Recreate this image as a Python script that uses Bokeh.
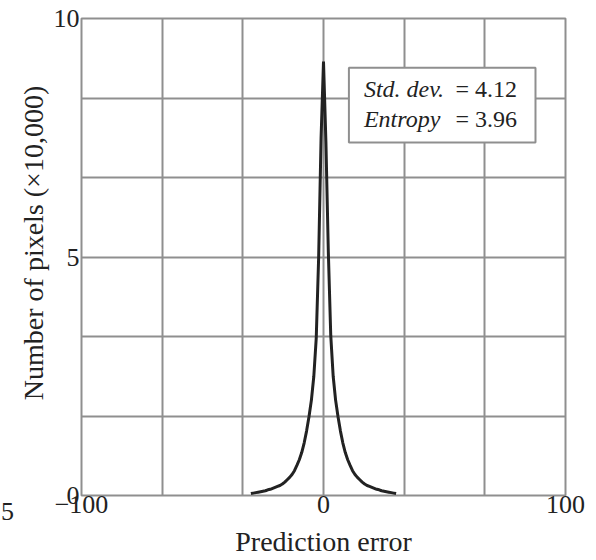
from bokeh.plotting import figure
from bokeh.models import FixedTicker, Range1d, ColumnDataSource, Div
from bokeh.layouts import row
from bokeh.core.properties import value
from bokeh.embed import file_html
from bokeh.resources import INLINE

# Prediction error histogram (counts in units of 10,000 pixels)
errors = list(range(-30, 31))
counts = [0.04, 0.05, 0.06, 0.07, 0.08, 0.09, 0.10, 0.12, 0.13, 0.15,
          0.17, 0.19, 0.21, 0.24, 0.28, 0.33, 0.38, 0.44, 0.52, 0.63,
          0.75, 0.90, 1.10, 1.35, 1.65, 2.00, 2.50, 3.30, 5.00, 7.50,
          9.10,
          7.40, 5.10, 3.35, 2.50, 2.00, 1.65, 1.35, 1.10, 0.90, 0.75,
          0.63, 0.52, 0.44, 0.38, 0.33, 0.28, 0.24, 0.21, 0.19, 0.17,
          0.15, 0.13, 0.12, 0.10, 0.09, 0.08, 0.07, 0.06, 0.05, 0.04]

x_ticks = [-100, 0, 100]
x_tick_labels = {-100: "\u2212100", 0: "0", 100: "100"}
x_grid = [-100, -100 + 200 / 6, -100 + 400 / 6, 0, 100 / 3, 200 / 3, 100]
y_ticks = [0, 5, 10]
y_grid = [i * 10 / 6 for i in range(7)]

stat_names = ["Std. dev.", "Entropy"]
stat_values = ["= 4.12", "= 3.96"]
edge_label = "5"   # partial label from the neighbouring panel

SERIF = "Liberation Serif"
GRID = "#8f8f8f"
INK = "#222222"

p = figure(width=576, height=560, output_backend="svg", toolbar_location=None,
           x_range=Range1d(-100, 100), y_range=Range1d(0, 10),
           min_border_left=66, min_border_right=25, min_border_top=18,
           min_border_bottom=65)

p.outline_line_color = GRID
p.outline_line_width = 2
p.background_fill_color = "white"

for ax in (p.xaxis[0], p.yaxis[0]):
    ax.axis_line_color = None
    ax.major_tick_line_color = None
    ax.minor_tick_line_color = None
    ax.major_tick_out = 0
    ax.major_tick_in = 0
    ax.major_label_text_font = SERIF
    ax.major_label_text_font_size = "26px"
    ax.major_label_text_color = INK
    ax.axis_label_text_font = SERIF
    ax.axis_label_text_font_size = "28px"
    ax.axis_label_text_font_style = "normal"
    ax.axis_label_text_color = INK

p.xaxis.major_label_standoff = 0
p.xaxis.major_label_text_line_height = 1.0
p.xaxis.axis_label_text_line_height = 1.0
p.xaxis.axis_label_standoff = 10
p.yaxis.major_label_standoff = 2
p.yaxis.axis_label_standoff = 2

p.xaxis.ticker = FixedTicker(ticks=x_ticks)
p.xaxis.major_label_overrides = x_tick_labels
p.yaxis.ticker = FixedTicker(ticks=y_ticks)
p.xaxis.axis_label = "Prediction error"
p.yaxis.axis_label = "\u2002\u2002Number of pixels (\u00d710,000)"

p.xgrid.ticker = FixedTicker(ticks=x_grid)
p.ygrid.ticker = FixedTicker(ticks=y_grid)
for g in (p.xgrid[0], p.ygrid[0]):
    g.grid_line_color = GRID
    g.grid_line_width = 2

src = ColumnDataSource(dict(x=errors, y=counts))
p.line("x", "y", source=src, line_color=INK, line_width=3)

# statistics box
p.quad(left=[10.5], right=[87.6], top=[8.97], bottom=[7.40],
       fill_color="white", line_color=GRID, line_width=2)
p.text(x=[16.7, 16.7], y=[8.53, 7.90], text=stat_names,
       text_font=value(SERIF), text_font_style="italic", text_font_size="24px",
       text_color=INK, text_baseline="middle", text_align="left")
p.text(x=[54.5, 54.5], y=[8.53, 7.90], text=stat_values,
       text_font=value(SERIF), text_font_size="24px",
       text_color=INK, text_baseline="middle", text_align="left")

edge = Div(text=f'<div style="margin-top:497px;margin-left:1px;'
                f'font-family:\'{SERIF}\';font-size:26px;color:{INK};'
                f'line-height:30px">{edge_label}</div>',
           width=14, height=560, margin=0)

layout = row(edge, p, spacing=0)
open("out.html", "w").write(file_html(layout, INLINE))
